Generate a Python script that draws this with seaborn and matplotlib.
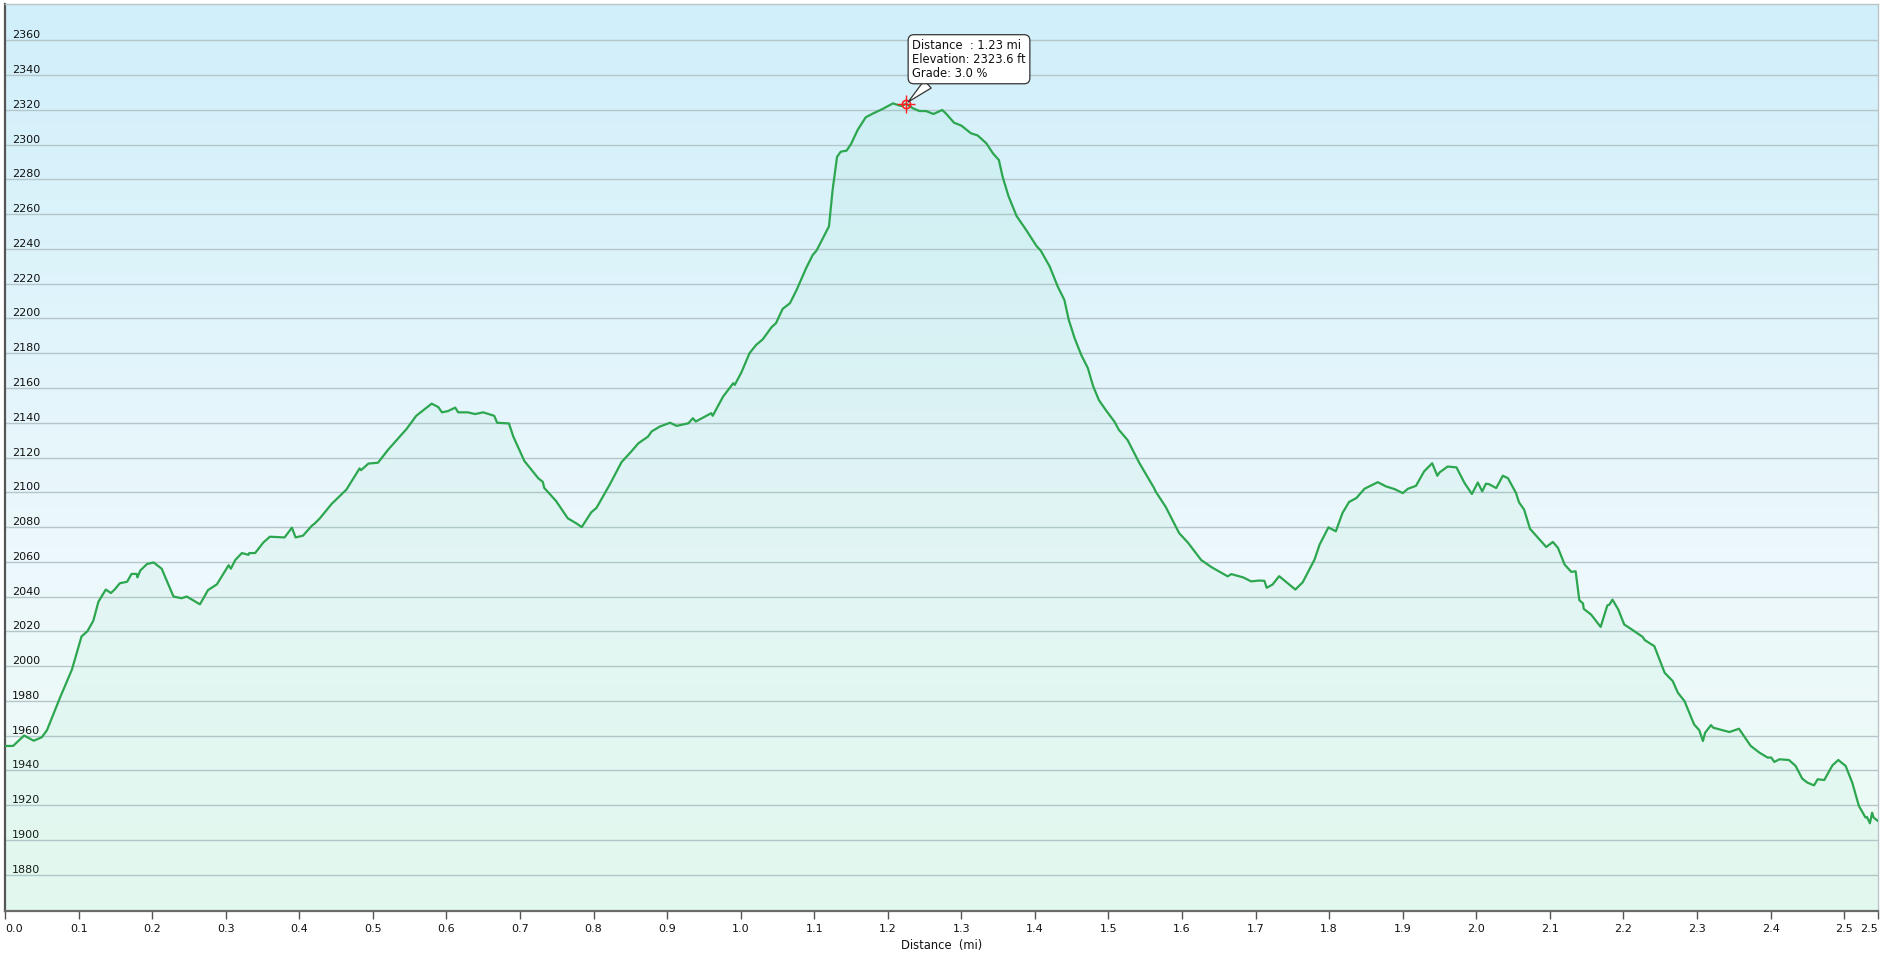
import numpy as np
import seaborn as sns
import matplotlib.pyplot as plt

# elevation profile (distance in mi, elevation in ft)
dist = [
    0.000, 0.011, 0.026, 0.039, 0.050, 0.057, 0.075, 0.091, 0.104, 0.112,
    0.120, 0.127, 0.137, 0.144, 0.149, 0.156, 0.166, 0.172, 0.179, 0.180,
    0.184, 0.193, 0.202, 0.213, 0.229, 0.240, 0.247, 0.265, 0.276, 0.288,
    0.304, 0.307, 0.313, 0.322, 0.331, 0.332, 0.340, 0.351, 0.360, 0.380,
    0.390, 0.395, 0.405, 0.417, 0.421, 0.428, 0.444, 0.464, 0.482, 0.484,
    0.494, 0.507, 0.521, 0.546, 0.559, 0.580, 0.589, 0.594, 0.602, 0.612,
    0.616, 0.629, 0.639, 0.650, 0.665, 0.669, 0.685, 0.691, 0.706, 0.725,
    0.731, 0.733, 0.747, 0.749, 0.765, 0.777, 0.784, 0.797, 0.804, 0.822,
    0.838, 0.851, 0.861, 0.874, 0.879, 0.890, 0.904, 0.913, 0.929, 0.935,
    0.939, 0.960, 0.962, 0.976, 0.990, 0.992, 1.001, 1.012, 1.021, 1.030,
    1.042, 1.048, 1.057, 1.067, 1.076, 1.089, 1.098, 1.103, 1.120, 1.125,
    1.131, 1.136, 1.144, 1.150, 1.159, 1.170, 1.180, 1.193, 1.207, 1.218,
    1.225, 1.234, 1.243, 1.252, 1.262, 1.274, 1.279, 1.290, 1.300, 1.313,
    1.322, 1.334, 1.343, 1.351, 1.356, 1.364, 1.375, 1.388, 1.402, 1.408,
    1.420, 1.431, 1.440, 1.446, 1.454, 1.463, 1.472, 1.479, 1.487, 1.497,
    1.508, 1.514, 1.526, 1.542, 1.562, 1.564, 1.578, 1.596, 1.608, 1.626,
    1.640, 1.662, 1.667, 1.683, 1.694, 1.705, 1.712, 1.715, 1.723, 1.732,
    1.754, 1.764, 1.780, 1.787, 1.794, 1.799, 1.809, 1.818, 1.827, 1.837,
    1.848, 1.866, 1.877, 1.889, 1.900, 1.907, 1.918, 1.929, 1.940, 1.947,
    1.950, 1.961, 1.973, 1.984, 1.994, 2.002, 2.008, 2.013, 2.017, 2.027,
    2.036, 2.043, 2.054, 2.058, 2.065, 2.073, 2.075, 2.095, 2.104, 2.111,
    2.120, 2.129, 2.135, 2.140, 2.145, 2.146, 2.156, 2.169, 2.178, 2.181,
    2.185, 2.193, 2.201, 2.210, 2.226, 2.229, 2.242, 2.256, 2.267, 2.274,
    2.283, 2.296, 2.303, 2.308, 2.311, 2.319, 2.322, 2.344, 2.357, 2.373,
    2.385, 2.396, 2.401, 2.405, 2.412, 2.425, 2.434, 2.443, 2.450, 2.459,
    2.464, 2.473, 2.484, 2.492, 2.502, 2.511, 2.520, 2.529, 2.531, 2.535,
    2.538, 2.540, 2.546,
]
elev = [
    1954.0, 1954.0, 1960.0, 1957.0, 1959.0, 1963.0, 1982.0, 1998.0, 2017.0, 2020.0,
    2026.0, 2037.0, 2044.0, 2042.0, 2044.0, 2047.6, 2048.5, 2053.0, 2053.0, 2051.0,
    2055.0, 2058.7, 2059.6, 2056.0, 2040.0, 2039.0, 2040.0, 2035.5, 2043.7, 2047.0,
    2058.0, 2056.0, 2061.0, 2065.0, 2064.0, 2065.0, 2065.0, 2071.0, 2074.4, 2074.0,
    2079.6, 2074.0, 2075.0, 2080.7, 2082.0, 2085.0, 2093.3, 2101.5, 2113.7, 2112.7,
    2116.5, 2117.0, 2124.6, 2136.5, 2144.0, 2151.0, 2149.0, 2146.0, 2146.7, 2148.7,
    2146.0, 2146.0, 2145.0, 2146.0, 2144.0, 2140.0, 2139.6, 2132.0, 2118.0, 2108.0,
    2106.0, 2102.5, 2096.0, 2095.0, 2085.0, 2082.0, 2080.0, 2088.5, 2091.0, 2104.4,
    2117.3, 2123.3, 2128.2, 2132.0, 2135.0, 2137.8, 2140.0, 2138.2, 2139.7, 2142.6,
    2140.7, 2145.5, 2144.0, 2155.0, 2162.8, 2161.8, 2169.0, 2180.0, 2184.8, 2188.0,
    2195.0, 2197.3, 2205.5, 2208.8, 2216.4, 2229.0, 2236.6, 2239.0, 2253.0, 2274.0,
    2293.0, 2296.0, 2296.6, 2300.4, 2308.5, 2315.8, 2318.0, 2320.6, 2323.8, 2322.3,
    2323.6, 2321.0, 2319.4, 2319.4, 2317.7, 2320.0, 2318.0, 2312.7, 2311.0, 2306.6,
    2305.4, 2300.8, 2295.0, 2291.2, 2281.7, 2270.5, 2259.0, 2251.0, 2241.8, 2239.0,
    2230.0, 2218.4, 2210.7, 2199.2, 2188.6, 2179.0, 2171.4, 2161.2, 2153.0, 2146.9,
    2140.7, 2136.0, 2130.0, 2116.8, 2102.4, 2100.5, 2091.4, 2076.5, 2071.0, 2061.0,
    2056.9, 2051.6, 2052.9, 2051.0, 2048.7, 2049.2, 2049.0, 2045.0, 2046.9, 2051.7,
    2044.0, 2048.2, 2061.2, 2069.9, 2075.6, 2079.8, 2077.5, 2088.0, 2094.4, 2096.7,
    2102.0, 2105.8, 2103.4, 2101.8, 2099.5, 2102.0, 2103.7, 2112.0, 2116.7, 2109.5,
    2111.4, 2114.8, 2114.3, 2105.3, 2099.0, 2105.6, 2100.5, 2104.9, 2104.7, 2102.4,
    2109.5, 2108.1, 2099.5, 2094.2, 2090.0, 2078.9, 2078.0, 2068.5, 2071.4, 2068.0,
    2058.4, 2054.2, 2054.5, 2037.9, 2036.0, 2032.9, 2029.6, 2022.5, 2034.8, 2035.4,
    2038.2, 2032.5, 2023.9, 2021.4, 2016.8, 2014.9, 2011.4, 1996.1, 1991.3, 1984.6,
    1979.8, 1966.4, 1963.1, 1956.8, 1961.6, 1966.0, 1964.5, 1962.0, 1963.9, 1954.0,
    1950.1, 1947.3, 1947.3, 1944.8, 1946.3, 1945.9, 1942.5, 1935.2, 1932.9, 1931.3,
    1934.8, 1934.4, 1942.8, 1945.9, 1942.5, 1932.9, 1919.5, 1912.8, 1913.1, 1909.5,
    1915.6, 1912.8, 1910.8,
]

y_ticks = list(range(1880, 2361, 20))
x_ticks = [round(0.1 * i, 1) for i in range(26)] + [2.546]
x_labels = [f"{t:.1f}" for t in x_ticks[:-1]] + ["2.5"]

# hovered point shown in the tooltip
hover_dist = 1.225
hover_elev = 2323.6
tooltip = ["Distance  : 1.23 mi", "Elevation: 2323.6 ft", "Grade: 3.0 %"]

sns.set_style("white")
plt.rcParams['font.family'] = ['DejaVu Sans']

fig = plt.figure(figsize=(18.85, 9.55), dpi=100)
ax = fig.add_axes([5 / 1885, 44 / 955, 1873 / 1885, 907 / 955])

ymin, ymax = 1859, 2381
xmin, xmax = 0, 2.546

# background gradient: light blue at top, near white, mint at bottom
stops = np.array([[208, 239, 250], [236, 248, 252], [236, 252, 244]]) / 255.0
t = np.linspace(0, 1, 300)
grad = np.stack([np.interp(t, [0, 0.6, 1], stops[:, c]) for c in range(3)], axis=1)
ax.imshow(grad[:, None, :], extent=[0, 1, 0, 1], transform=ax.transAxes,
          aspect='auto', zorder=0)

ax.fill_between(dist, elev, ymin, color='#6ad8a0', alpha=0.07, lw=0, zorder=1)
sns.lineplot(x=dist, y=elev, estimator=None, sort=False, color='#2ca64f',
             lw=1.6, ax=ax, zorder=3)

# hover marker
ax.plot([hover_dist], [hover_elev], marker='o', ms=6, mfc='none', mec='#ff2020',
        mew=1.2, zorder=5)
ax.plot([hover_dist], [hover_elev], marker='+', ms=13, mec='#ff2020', mew=1.0,
        zorder=5)

ax.annotate("\n".join(tooltip), xy=(hover_dist, hover_elev),
            xytext=(6, 24), textcoords='offset pixels', ha='left', va='bottom',
            fontsize=8.3, color='#111', linespacing=1.1,
            bbox=dict(boxstyle='round,pad=0.35,rounding_size=0.5', fc='white',
                      ec='#333333', lw=0.9),
            arrowprops=dict(arrowstyle='wedge,tail_width=0.9,shrink_factor=0.5',
                            fc='white', ec='#333333', lw=0.9, relpos=(0.18, 0.0),
                            shrinkA=0, shrinkB=2),
            zorder=6)

ax.set_xlim(xmin, xmax)
ax.set_ylim(ymin, ymax)

ax.set_yticks(y_ticks, [str(v) for v in y_ticks], ha='left', va='bottom')
ax.tick_params(axis='y', length=0, pad=-5, labelsize=8, colors='#111')
ax.yaxis.grid(True, color='#b4c6ca', lw=1.0)
ax.xaxis.grid(False)
ax.set_axisbelow(True)

ax.set_xticks(x_ticks, x_labels)
ax.tick_params(axis='x', direction='out', length=6, width=1, color='#555',
               pad=3, labelsize=8, labelcolor='#111', bottom=True)
xl = ax.get_xticklabels()
xl[0].set_ha('left')
xl[-1].set_ha('right')
ax.set_xlabel("Distance  (mi)", fontsize=8.3, color='#111', labelpad=4)
ax.set_ylabel("")

ax.spines['left'].set_color('#555555')
ax.spines['left'].set_linewidth(1.6)
ax.spines['bottom'].set_color('#6a6a6a')
ax.spines['bottom'].set_linewidth(1.6)
for side in ['top', 'right']:
    ax.spines[side].set_color('#bcc6ca')
    ax.spines[side].set_linewidth(1.0)

plt.savefig('out.png', dpi=100)
